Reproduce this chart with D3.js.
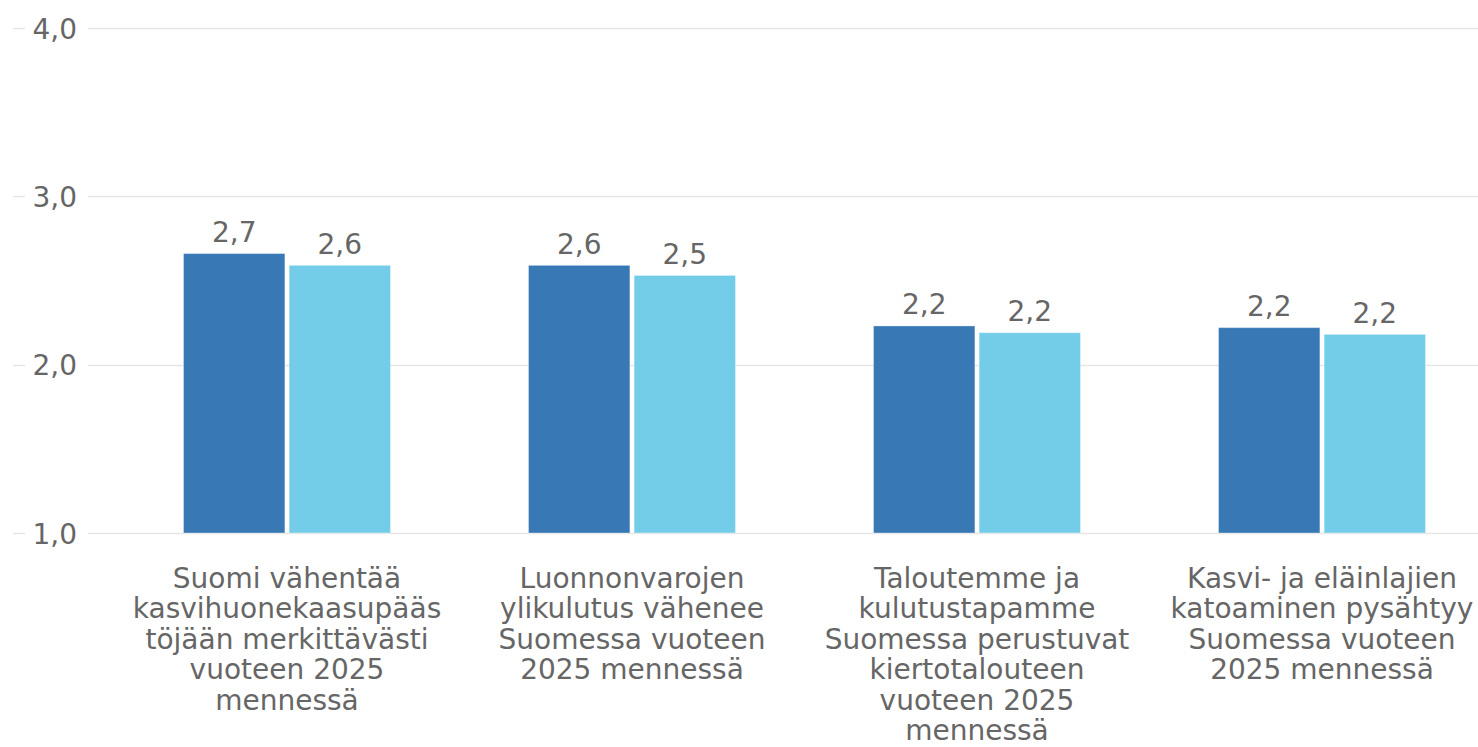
<!DOCTYPE html>
<html><head><meta charset="utf-8">
<script src="https://cdn.jsdelivr.net/npm/d3@7"></script>
<style>html,body{margin:0;padding:0;background:#fff;overflow:hidden}</style>
</head><body>
<svg id="c" width="1478" height="747"></svg>
<script>
const categories = [
  "Suomi vähentää kasvihuonekaasupäästöjään merkittävästi vuoteen 2025 mennessä",
  "Luonnonvarojen ylikulutus vähenee Suomessa vuoteen 2025 mennessä",
  "Taloutemme ja kulutustapamme Suomessa perustuvat kiertotalouteen vuoteen 2025 mennessä",
  "Kasvi- ja eläinlajien katoaminen pysähtyy Suomessa vuoteen 2025 mennessä"
];
const categoryLines = [
  ["Suomi vähentää", "kasvihuonekaasupääs", "töjään merkittävästi", "vuoteen 2025", "mennessä"],
  ["Luonnonvarojen", "ylikulutus vähenee", "Suomessa vuoteen", "2025 mennessä"],
  ["Taloutemme ja", "kulutustapamme", "Suomessa perustuvat", "kiertotalouteen", "vuoteen 2025", "mennessä"],
  ["Kasvi- ja eläinlajien", "katoaminen pysähtyy", "Suomessa vuoteen", "2025 mennessä"]
];
const seriesA = [2.66, 2.59, 2.23, 2.22];
const seriesB = [2.59, 2.53, 2.19, 2.18];
const yTicks = [1, 2, 3, 4];

const svg = d3.select("#c");
const font = "'DejaVu Sans', Verdana, sans-serif";
const textColor = "#666666";
const colors = ["#3778b5", "#74cde8"];

const y = d3.scaleLinear().domain([1, 4]).range([533, 28]);
const x0 = d3.scaleBand().domain(categories).range([114.5, 1494.5]).paddingInner(0.4).paddingOuter(0.2);
const x1 = d3.scaleBand().domain([0, 1]).range([0, x0.bandwidth()]).paddingInner(0.04);
const fmt = v => d3.format(".1f")(v).replace(".", ",");

// gridlines
const grid = svg.append("g");
grid.selectAll("line").data(yTicks).join("line")
  .attr("x1", 13).attr("x2", 1478)
  .attr("y1", d => Math.round(y(d)) + 0.5).attr("y2", d => Math.round(y(d)) + 0.5)
  .attr("stroke", "#e6e6e6").attr("stroke-width", 1.5);
grid.selectAll("rect").data(yTicks).join("rect")
  .attr("x", 25).attr("width", 63)
  .attr("y", d => y(d) - 12).attr("height", 24).attr("fill", "#fff");

// y axis via d3.axisLeft (domain removed)
const yAxis = svg.append("g").attr("transform", "translate(77,0)")
  .call(d3.axisLeft(y).tickValues(yTicks).tickSize(0).tickPadding(0).tickFormat(fmt));
yAxis.select(".domain").remove();
yAxis.selectAll("text").attr("font-family", font).attr("font-size", 28).attr("fill", textColor)
  .attr("dy", null).attr("dominant-baseline", null).attr("y", 10);

// bars
const groups = svg.append("g").selectAll("g").data(categories).join("g")
  .attr("transform", d => `translate(${x0(d)},0)`);
const seriesList = [seriesA, seriesB];
groups.selectAll("rect").data((d, i) => seriesList.map((s, k) => ({k, v: s[i]}))).join("rect")
  .attr("x", d => x1(d.k)).attr("width", x1.bandwidth())
  .attr("y", d => y(d.v)).attr("height", d => y(1) - y(d.v))
  .attr("fill", d => colors[d.k])
  .attr("stroke", "#ffffff").attr("stroke-opacity", 0.35).attr("stroke-width", 1);
groups.selectAll("text").data((d, i) => seriesList.map((s, k) => ({k, v: s[i]}))).join("text")
  .attr("x", d => x1(d.k) + x1.bandwidth() / 2)
  .attr("y", d => y(d.v) - 11.5)
  .attr("text-anchor", "middle").attr("font-family", font).attr("font-size", 28)
  .attr("fill", textColor).text(d => fmt(d.v));

// x labels
const xl = svg.append("g").selectAll("text").data(categories).join("text")
  .attr("text-anchor", "middle").attr("font-family", font).attr("font-size", 28).attr("fill", textColor)
  .attr("transform", d => `translate(${x0(d) + x0.bandwidth() / 2},587.5)`);
xl.each(function(d, i) {
  d3.select(this).selectAll("tspan").data(categoryLines[i]).join("tspan")
    .attr("x", 0).attr("y", (l, j) => j * 30.5).text(l => l);
});
</script>
</body></html>
